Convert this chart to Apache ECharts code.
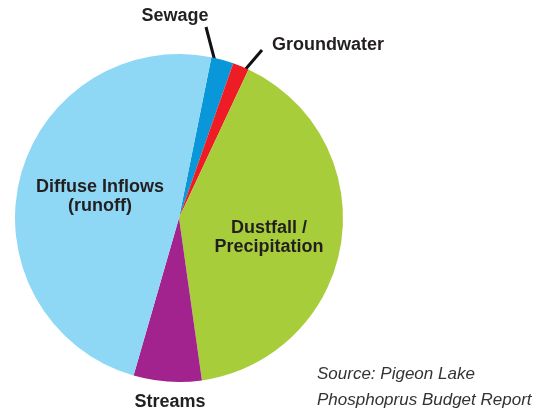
<!DOCTYPE html>
<html>
<head>
<meta charset="utf-8">
<script src="https://cdn.jsdelivr.net/npm/echarts@6/dist/echarts.min.js"></script>
<style>html,body{margin:0;padding:0;background:#fff}#c{width:537px;height:412px}</style>
</head>
<body>
<div id="c"></div>
<script>
var categories = ['Sewage', 'Groundwater', 'Dustfall /\nPrecipitation', 'Streams', 'Diffuse Inflows\n(runoff)'];
var values = [2.2, 1.6, 40.8, 6.7, 48.7];
var colors = ['#0a97d9', '#ee1d25', '#a8cd3a', '#a2228e', '#8ed8f6'];
var sourceText = 'Source: Pigeon Lake\nPhosphoprus Budget Report';

var labelPos = {
  0: {x: 175, y: 16, line: [[206, 27], [212, 50], [218, 73]]},
  1: {x: 328, y: 45, line: [[262, 50], [250, 64], [238, 78]]},
  2: {x: 269, y: 238},
  3: {x: 170, y: 402},
  4: {x: 100, y: 197}
};

var chart = echarts.init(document.getElementById('c'), null, {renderer: 'canvas'});
chart.setOption({
  animation: false,
  backgroundColor: '#ffffff',
  graphic: [{
    type: 'text', left: 317, top: 361,
    style: {text: sourceText, font: 'italic 17px "Liberation Sans", Arial, sans-serif', fill: '#333333', lineHeight: 26}
  }],
  series: [{
    type: 'pie',
    center: [179, 218],
    radius: 164,
    startAngle: 78.6,
    clockwise: true,
    silent: true,
    avoidLabelOverlap: false,
    emphasis: {disabled: true},
    itemStyle: {borderWidth: 0},
    label: {
      show: true,
      formatter: '{b}',
      fontFamily: '"Liberation Sans", Arial, sans-serif',
      fontWeight: 'bold',
      fontSize: 18,
      lineHeight: 19,
      color: '#231f20',
      align: 'center',
      verticalAlign: 'middle'
    },
    labelLine: {show: true, lineStyle: {color: '#111', width: 3}, smooth: false},
    labelLayout: function (p) {
      var lp = labelPos[p.dataIndex];
      var o = {x: lp.x, y: lp.y, align: 'center', verticalAlign: 'middle', hideOverlap: false};
      if (lp.line) o.labelLinePoints = lp.line;
      return o;
    },
    data: categories.map(function (c, i) {
      var d = {name: c, value: values[i], itemStyle: {color: colors[i]}};
      if (i > 1) {
        d.labelLine = {show: false};
        d.label = {position: 'inside'};
      }
      return d;
    })
  }]
});
</script>
</body>
</html>
